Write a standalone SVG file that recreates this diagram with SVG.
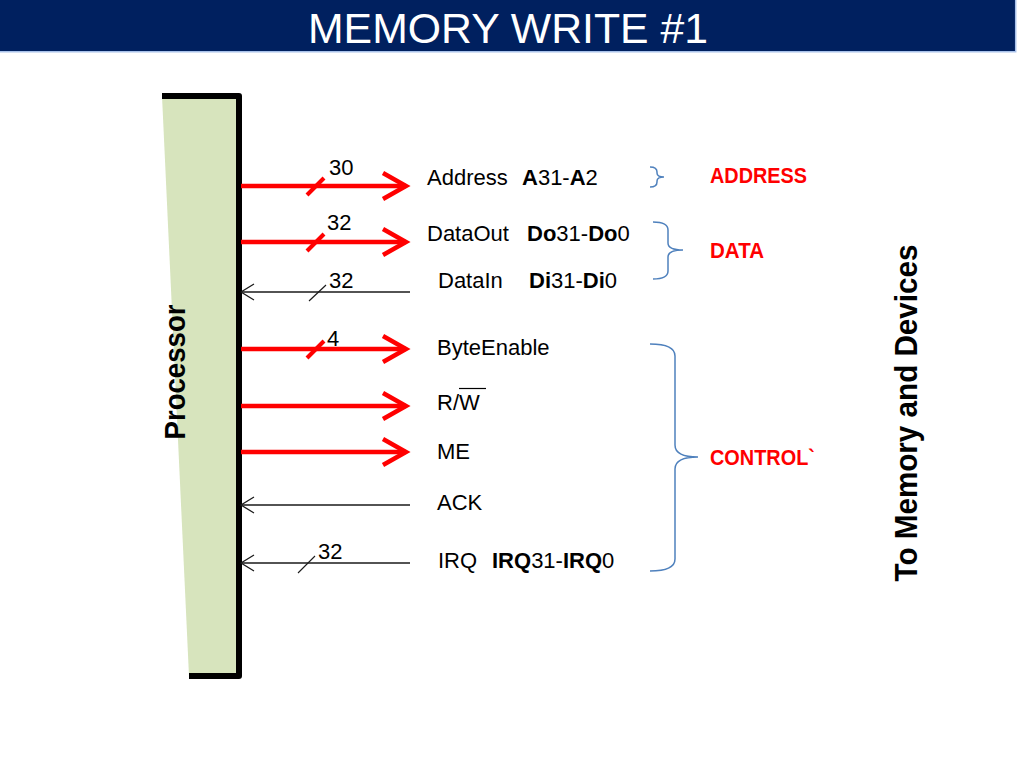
<svg xmlns="http://www.w3.org/2000/svg" width="1024" height="768" viewBox="0 0 1024 768">
<defs>
<style>
text{font-family:"Liberation Sans",Arial,sans-serif;}
.lbl{font-size:22px;fill:#000;}
.b{font-weight:bold;}
.num{font-size:22px;fill:#000;}
.grp{font-size:22px;font-weight:bold;fill:#ff0000;}
.red{stroke:#ff0000;stroke-width:4.5;fill:none;}
.blk{stroke:#1a1a1a;stroke-width:1.3;fill:none;}
.slashR{stroke:#ff0000;stroke-width:4;}
.slashB{stroke:#1a1a1a;stroke-width:1.1;}
.brace{stroke:#4f81bd;stroke-width:1.5;fill:none;}
</style>
<marker id="arrR" markerUnits="userSpaceOnUse" markerWidth="40" markerHeight="40" refX="0" refY="0" orient="auto" overflow="visible">
<path d="M-23,-13 L0,0 L-23,13" stroke="#ff0000" stroke-width="4.5" fill="none"/>
</marker>
<marker id="arrB" markerUnits="userSpaceOnUse" markerWidth="30" markerHeight="30" refX="0" refY="0" orient="auto-start-reverse" overflow="visible">
<path d="M-13,-8 L0,0 L-13,8" stroke="#1a1a1a" stroke-width="1.3" fill="none"/>
</marker>
</defs>
<rect width="1024" height="768" fill="#ffffff"/>
<g id="title">
<rect x="0" y="0" width="1015" height="51" fill="#00205f"/>
<path d="M0,51.7 H1015.7 V0" stroke="#a9c2ea" stroke-width="1.5" fill="none"/>
<text x="308" y="43" font-size="43" fill="#ffffff" textLength="400" lengthAdjust="spacingAndGlyphs">MEMORY WRITE #1</text>
</g>
<g id="processor">
<polygon points="162,96 239,96 239,676 189,676" fill="#d7e4bd"/>
<path d="M162,96 L239,96 L239,676 L189,676" stroke="#000" stroke-width="6" fill="none" stroke-linejoin="round"/>
<text transform="translate(185,372) rotate(-90)" text-anchor="middle" font-size="30" font-weight="bold" textLength="135" lengthAdjust="spacingAndGlyphs">Processor</text>
</g>
<g id="connectors">
<line class="red" x1="241" y1="186" x2="406" y2="186" marker-end="url(#arrR)"/>
<line class="red" x1="241" y1="242" x2="406" y2="242" marker-end="url(#arrR)"/>
<line class="blk" x1="241" y1="292" x2="410" y2="292" marker-start="url(#arrB)"/>
<line class="red" x1="241" y1="349" x2="406" y2="349" marker-end="url(#arrR)"/>
<line class="red" x1="241" y1="406" x2="406" y2="406" marker-end="url(#arrR)"/>
<line class="red" x1="241" y1="452" x2="406" y2="452" marker-end="url(#arrR)"/>
<line class="blk" x1="241" y1="505" x2="410" y2="505" marker-start="url(#arrB)"/>
<line class="blk" x1="241" y1="563" x2="410" y2="563" marker-start="url(#arrB)"/>
<line class="slashR" x1="307" y1="195" x2="324" y2="178"/>
<line class="slashR" x1="307" y1="251" x2="324" y2="234"/>
<line class="slashB" x1="309" y1="301" x2="326" y2="285"/>
<line class="slashR" x1="307" y1="358" x2="324" y2="341"/>
<line class="slashB" x1="298" y1="573" x2="315" y2="556"/>
<text class="num" x="329" y="175">30</text>
<text class="num" x="327" y="230">32</text>
<text class="num" x="329" y="288">32</text>
<text class="num" x="327" y="346">4</text>
<text class="num" x="318" y="559">32</text>
</g>
<g id="sig-address"><text class="lbl" x="427" y="185">Address<tspan x="522" class="b">A</tspan>31-<tspan class="b">A</tspan>2</text></g>
<g id="sig-dataout"><text class="lbl" x="427" y="241">DataOut<tspan x="527" class="b">Do</tspan>31-<tspan class="b">Do</tspan>0</text></g>
<g id="sig-datain"><text class="lbl" x="438" y="288">DataIn<tspan x="529" class="b">Di</tspan>31-<tspan class="b">Di</tspan>0</text></g>
<g id="sig-byteenable"><text class="lbl" x="437" y="355">ByteEnable</text></g>
<g id="sig-rw"><text class="lbl" x="437" y="410">R/W</text><line x1="459" y1="388.5" x2="486" y2="388.5" stroke="#000" stroke-width="1.2"/></g>
<g id="sig-me"><text class="lbl" x="437" y="459">ME</text></g>
<g id="sig-ack"><text class="lbl" x="437" y="510">ACK</text></g>
<g id="sig-irq"><text class="lbl" x="438" y="568">IRQ<tspan x="492" class="b">IRQ</tspan>31-<tspan class="b">IRQ</tspan>0</text></g>
<g id="group-address">
<path class="brace" d="M650,167 Q657,167 657,172 L657,173 Q657,177 664,177 Q657,177 657,181 L657,182 Q657,187 650,187"/>
<text class="grp" x="710" y="183" textLength="97" lengthAdjust="spacingAndGlyphs">ADDRESS</text>
</g>
<g id="group-data">
<path class="brace" d="M653,222 Q668,222 668,230 L668,243 Q668,250 683,250 Q668,250 668,257 L668,271 Q668,279 653,279"/>
<text class="grp" x="710" y="258" textLength="54" lengthAdjust="spacingAndGlyphs">DATA</text>
</g>
<g id="group-control">
<path class="brace" d="M650,344 Q675,344 675,356 L675,445 Q675,457 698,457 Q675,457 675,469 L675,559 Q675,571 650,571"/>
<text class="grp" x="710" y="465" textLength="105" lengthAdjust="spacingAndGlyphs">CONTROL`</text>
</g>
<g id="memory-devices">
<text transform="translate(917,413) rotate(-90)" text-anchor="middle" font-size="31" font-weight="bold" textLength="337" lengthAdjust="spacingAndGlyphs">To Memory and Devices</text>
</g>
</svg>
